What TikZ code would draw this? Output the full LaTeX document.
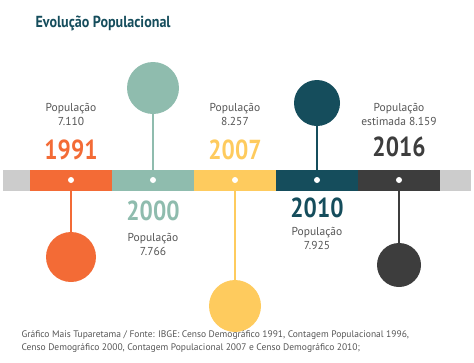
\documentclass[tikz,border=0pt]{standalone}
\usepackage{fontspec}
\setmainfont{PT Sans}
\newfontfamily\narrowfont[FakeStretch=0.85]{PT Sans}
\newfontfamily\titlefont[FakeStretch=0.88]{PT Sans}
\usetikzlibrary{positioning}

\definecolor{censoorange}{HTML}{F36B36}
\definecolor{censosage}{HTML}{8FBCAE}
\definecolor{censoyellow}{HTML}{FECB5E}
\definecolor{censopetrol}{HTML}{154D5C}
\definecolor{censodark}{HTML}{3D3D3D}
\definecolor{censolight}{HTML}{CCCCCC}
\definecolor{censotext}{HTML}{555555}

\begin{document}
\begin{tikzpicture}[x=1pt,y=-1pt,
      segbox/.style={
         rectangle,
         draw=none,
         inner sep=0pt,
         minimum width=82pt,
         minimum height=21pt},
      mydot/.style={
         circle,
         fill=white,
         inner sep=0pt,
         minimum size=6pt},
      mycircle/.style={
         circle,
         inner sep=0pt},
      poptext/.style={
         align=center,
         text=censotext,
         font=\fontsize{11.5}{14}\selectfont},
      yeartext/.style={
         font=\narrowfont\fontsize{27.5}{30}\selectfont\bfseries},
      mystem/.style={line width=2.5pt}
      ]
      \useasboundingbox (0,0) rectangle (474,362);
      % title
      \node[anchor=west, text=censopetrol, font=\titlefont\fontsize{16}{18}\selectfont\bfseries]
         (title) at (32,23) {Evolução Populacional};
      % light grey ends of the bar
      \node[segbox, fill=censolight, minimum width=27pt] (capl) at (16.5,180) {};
      \node[segbox, fill=censolight, minimum width=31pt] (capr) at (455.5,180) {};
    \foreach \yr/\xc/\col/\cy/\r in {
      1991/71/censoorange/257/25,
      2000/153/censosage/88/26,
      2007/235/censoyellow/306/26,
      2010/317/censopetrol/103/23,
      2016/399/censodark/265/22}
      {
      \node[segbox, fill=\col] (bar\yr) at (\xc,180) {};
      \node[mycircle, fill=\col, minimum size=2*\r pt] (circ\yr) at (\xc,\cy) {};
      \draw[mystem, draw=\col] (bar\yr.center) -- (circ\yr);
      \node[mydot] (dot\yr) at (bar\yr.center) {};
      }
      % years and population
      \node[yeartext, text=censoorange] (y1991) at (71,150) {1991};
      \node[poptext] (p1991) at (71,114) {População\\7.110};
      \node[yeartext, text=censosage] (y2000) at (153,211) {2000};
      \node[poptext] (p2000) at (153,244) {População\\7.766};
      \node[yeartext, text=censoyellow] (y2007) at (235,150) {2007};
      \node[poptext] (p2007) at (235,114) {População\\8.257};
      \node[yeartext, text=censopetrol] (y2010) at (317,208) {2010};
      \node[poptext] (p2010) at (317,238) {População\\7.925};
      \node[yeartext, text=censodark] (y2016) at (399,147) {2016};
      \node[poptext] (p2016) at (399,114) {População\\estimada 8.159};
      % source
      \node[anchor=north west, align=left, text=censotext,
         font=\fontsize{9.5}{13.5}\selectfont] (fonte) at (18,327)
         {Gráfico Mais Tuparetama / Fonte: IBGE: Censo Demográfico 1991, Contagem Populacional 1996,\\
          Censo Demográfico 2000, Contagem Populacional 2007 e Censo Demográfico 2010;};
\end{tikzpicture}
\end{document}
